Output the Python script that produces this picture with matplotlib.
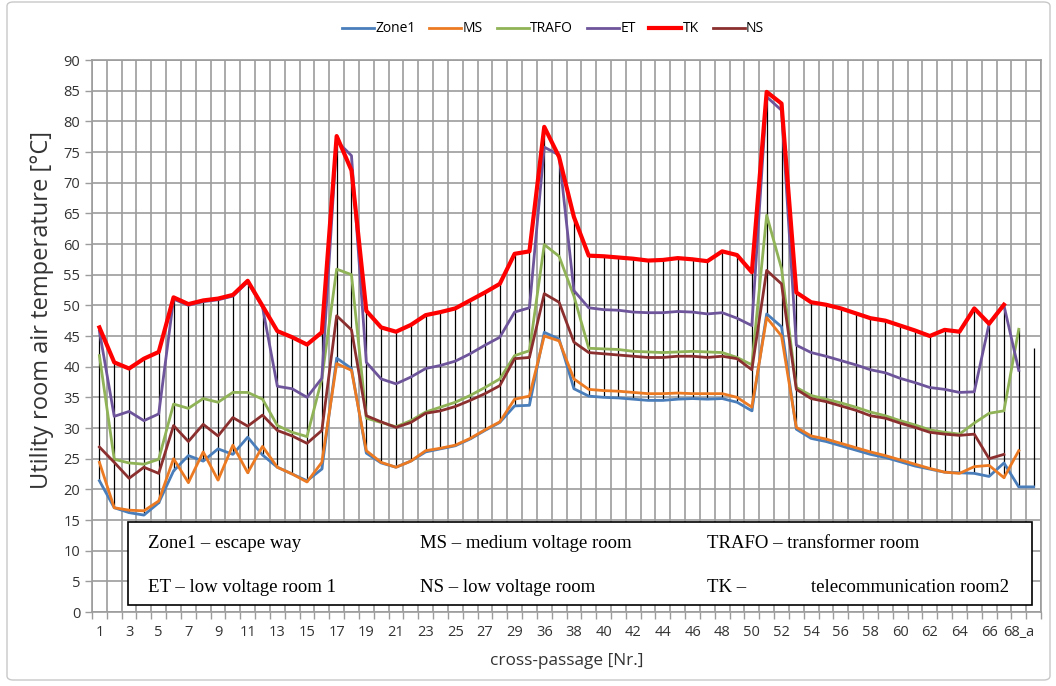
import numpy as np
import matplotlib.pyplot as plt
from matplotlib.patches import Rectangle, FancyBboxPatch

nan = np.nan

# cross-passage numbers (30-34 not measured)
passages = ['1', '2', '3', '4', '5', '6', '7', '8', '9', '10', '11', '12', '13', '14', '15',
            '16', '17', '18', '19', '20', '21', '22', '23', '24', '25', '26', '27', '28', '29',
            '35', '36', '37', '38', '39', '40', '41', '42', '43', '44', '45', '46', '47', '48',
            '49', '50', '51', '52', '53', '54', '55', '56', '57', '58', '59', '60', '61', '62',
            '63', '64', '65', '66', '67', '68_a', '68_b']

zone1 = [21.4, 17.0, 16.2, 15.8, 17.8, 23.0, 25.5, 24.6, 26.6, 25.7, 28.5, 25.6, 23.6, 22.5, 21.4,
         23.3, 41.4, 39.7, 25.9, 24.3, 23.6, 24.6, 26.1, 26.6, 27.1, 28.2, 29.6, 30.9, 33.6, 33.7,
         45.6, 44.5, 36.4, 35.2, 35.0, 34.9, 34.7, 34.5, 34.5, 34.7, 34.8, 34.7, 34.8, 34.2, 32.8,
         48.6, 46.5, 29.8, 28.3, 27.8, 27.1, 26.4, 25.7, 25.2, 24.5, 23.8, 23.3, 22.8, 22.7, 22.6,
         22.1, 24.3, 20.4, 20.4]
ms = [24.4, 17.0, 16.6, 16.5, 18.1, 25.0, 21.1, 26.1, 21.5, 27.2, 22.7, 27.0, 23.6, 22.5, 21.2,
      24.4, 40.5, 39.4, 26.3, 24.4, 23.6, 24.6, 26.3, 26.7, 27.2, 28.3, 29.7, 31.0, 34.7, 35.2,
      45.0, 44.2, 38.0, 36.3, 36.1, 36.0, 35.8, 35.6, 35.6, 35.7, 35.6, 35.6, 35.6, 35.0, 33.4,
      48.0, 45.0, 30.1, 28.7, 28.2, 27.5, 26.8, 26.1, 25.5, 24.8, 24.1, 23.4, 22.8, 22.6, 23.7,
      23.9, 21.9, 26.3, nan]
trafo = [41.8, 24.9, 24.3, 24.1, 24.9, 33.9, 33.2, 34.8, 34.2, 35.8, 35.8, 34.7, 30.4, 29.3, 28.6,
         38.0, 55.9, 55.0, 31.6, 30.9, 30.2, 31.2, 32.6, 33.4, 34.2, 35.3, 36.6, 38.0, 41.8, 42.6,
         59.9, 58.0, 51.5, 43.0, 42.9, 42.8, 42.5, 42.4, 42.3, 42.4, 42.5, 42.4, 42.3, 41.5, 40.3,
         64.7, 56.0, 36.6, 35.3, 34.7, 34.1, 33.4, 32.6, 32.0, 31.2, 30.5, 29.7, 29.3, 29.0, 30.8,
         32.4, 32.8, 46.1, nan]
et = [45.8, 31.9, 32.7, 31.2, 32.3, 51.0, 50.0, 50.6, 50.9, 51.5, 53.8, 49.7, 36.8, 36.4, 35.0,
      38.1, 76.8, 74.4, 40.7, 38.0, 37.2, 38.3, 39.7, 40.2, 40.9, 42.1, 43.5, 44.8, 48.9, 49.6,
      75.8, 74.5, 52.4, 49.6, 49.3, 49.2, 48.9, 48.8, 48.8, 49.0, 48.9, 48.6, 48.8, 47.9, 46.7,
      84.0, 81.8, 43.5, 42.3, 41.7, 41.0, 40.3, 39.5, 39.0, 38.1, 37.4, 36.6, 36.3, 35.8, 35.9,
      47.0, 50.0, 39.4, nan]
tk = [46.4, 40.7, 39.7, 41.3, 42.4, 51.3, 50.2, 50.8, 51.1, 51.7, 54.0, 49.9, 45.8, 44.8, 43.6,
      45.6, 77.6, 72.0, 49.1, 46.4, 45.7, 46.8, 48.4, 48.9, 49.5, 50.8, 52.1, 53.5, 58.4, 58.8,
      79.1, 74.2, 64.4, 58.1, 58.0, 57.8, 57.6, 57.3, 57.4, 57.7, 57.5, 57.2, 58.8, 58.2, 55.4,
      84.8, 82.9, 52.1, 50.5, 50.1, 49.5, 48.7, 47.9, 47.5, 46.7, 45.9, 45.0, 46.0, 45.7, 49.5,
      47.0, 50.1, nan, 43.0]
ns = [26.9, 24.4, 21.8, 23.6, 22.6, 30.4, 27.8, 30.6, 28.7, 31.7, 30.3, 32.1, 29.6, 28.7, 27.5,
      29.6, 48.3, 46.0, 32.0, 31.0, 30.1, 30.9, 32.4, 32.8, 33.5, 34.5, 35.6, 36.9, 41.3, 41.5,
      51.9, 50.5, 44.0, 42.3, 42.1, 41.9, 41.7, 41.5, 41.5, 41.7, 41.7, 41.5, 41.7, 41.3, 39.5,
      55.7, 53.5, 36.3, 34.8, 34.3, 33.6, 32.9, 32.0, 31.6, 30.8, 30.1, 29.3, 29.0, 28.8, 29.0,
      25.0, 25.7, nan, nan]

series = [('Zone1', zone1, '#4a7ebb', 2.0),
          ('MS', ms, '#ec7a22', 2.0),
          ('TRAFO', trafo, '#8fb356', 2.0),
          ('ET', et, '#6e559b', 2.0),
          ('TK', tk, '#ff0000', 3.0),
          ('NS', ns, '#8c2f2f', 2.0)]

notes = [('Zone1 – escape way', 148, 544), ('MS – medium voltage room', 420, 544),
         ('TRAFO – transformer room', 707, 544), ('ET – low voltage room 1', 148, 588),
         ('NS – low voltage room', 420, 588), ('TK –', 707, 588),
         ('telecommunication room2', 811, 588)]

W, H = 1056, 686
plt.rcParams['font.family'] = ['Open Sans', 'DejaVu Sans']

fig = plt.figure(figsize=(W / 100, H / 100), dpi=100)
ax = fig.add_axes([92 / W, 1 - 612 / H, 949 / W, 552 / H])

x = np.arange(len(passages))

# high-low lines between the max and min room at each cross-passage
allv = np.array([s[1] for s in series], dtype=float)
ax.vlines(x, np.nanmin(allv, axis=0), np.nanmax(allv, axis=0), color='black', lw=0.9, zorder=2)

for name, vals, col, lw in series:
    ax.plot(x, vals, color=col, lw=lw, label=name, zorder=3)

ax.set_xlim(-0.5, len(passages) - 0.5)
ax.set_ylim(0, 90)
ax.set_yticks(np.arange(0, 91, 5))
ax.set_xticks(x[::2])
ax.set_xticklabels(passages[::2])
ax.set_xticks(np.arange(-0.5, len(passages), 1), minor=True)
ax.grid(which='minor', axis='x', color='#9c9c9c', lw=1.2, zorder=0)
ax.grid(which='major', axis='y', color='#9c9c9c', lw=1.2, zorder=0)
ax.set_axisbelow(True)
ax.tick_params(axis='x', which='major', length=0, pad=9, labelsize=10.5, colors='#333333')
ax.tick_params(axis='x', which='minor', length=5, color='#9c9c9c', width=1.0)
ax.tick_params(axis='y', length=5, color='#9c9c9c', width=1.0, labelsize=10.5, labelcolor='#333333')
for sp in ax.spines.values():
    sp.set_color('#9c9c9c')
    sp.set_linewidth(1.2)

# description box
ax.add_patch(Rectangle((36 / 949, 7 / 552), 904 / 949, 83 / 552, transform=ax.transAxes,
                       facecolor='white', edgecolor='black', lw=1.2, zorder=5))
for txt, px, py in notes:
    fig.text(px / W, 1 - py / H, txt, family='Liberation Serif', fontsize=13.5,
             va='center', ha='left')

fig.text(42 / W, 1 - 310 / H, 'Utility room air temperature [°C]', rotation=90,
         ha='center', va='center', fontsize=17, color='#333333')
fig.text(567 / W, 1 - 661 / H, 'cross-passage [Nr.]', ha='center', va='center',
         fontsize=12.4, color='#333333')

fig.legend(loc='center', bbox_to_anchor=(553 / W, 1 - 29 / H), ncol=6, frameon=False,
           fontsize=10, handlelength=2.3, handletextpad=0.1, columnspacing=1.0)

fig.patches.append(FancyBboxPatch((7 / W, 6 / H), 1043 / W, 678 / H, transform=fig.transFigure,
                                  boxstyle='round,pad=0,rounding_size=0.006',
                                  facecolor='none', edgecolor='#c8c8c8', lw=1.0))

fig.savefig('out.png', dpi=100)
